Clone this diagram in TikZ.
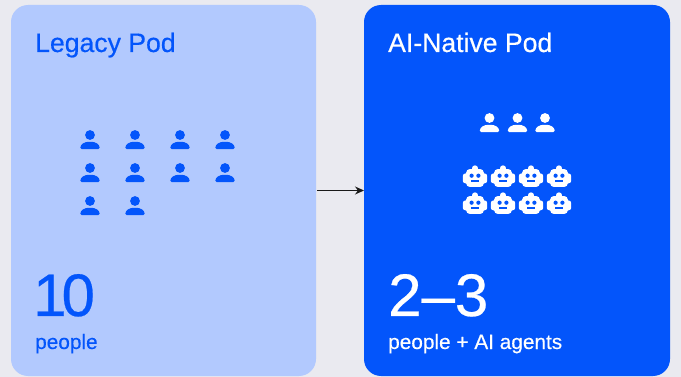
\documentclass[tikz,border=0pt]{standalone}
\usepackage{fontspec}
\usetikzlibrary{arrows.meta}
\setmainfont{Liberation Sans}[FakeBold=0.4]
\definecolor{bgc}{HTML}{EAEAF0}
\definecolor{lightc}{HTML}{B2C9FE}
\definecolor{bluec}{HTML}{0355FB}
\newcommand{\personicon}[3]{%
\begin{scope}[shift={(#1,#2)}]
\fill[#3] (0,-5) circle (4.9);
\fill[#3,rounded corners=1.6] (-9.7,9.2) .. controls (-9.7,4) and (-4.8,1.8) .. (0,1.8) .. controls (4.8,1.8) and (9.7,4) .. (9.7,9.2) -- cycle;
\end{scope}}
\newcommand{\boticon}[2]{%
\begin{scope}[shift={(#1,#2)}]
\fill[white] (0,-8.2) circle (3);
\fill[white,rounded corners=3.5] (-8.8,-7.4) rectangle (8.8,10.4);
\fill[white,rounded corners=2.5] (-12.2,-3) rectangle (12.2,6.8);
\fill[bluec] (-3.4,-0.8) circle (2.1);
\fill[bluec] (3.4,-0.8) circle (2.1);
\fill[bluec] (-4,3.6) rectangle (4,5.2);
\end{scope}}
\begin{document}
\begin{tikzpicture}[x=1pt,y=-1pt,
  titlelabel/.style={font=\fontsize{26.6}{30}\selectfont,anchor=base west,inner sep=0pt},
  biglabel/.style={font=\fontsize{60}{64}\selectfont,anchor=base west,inner sep=0pt},
  sublabel/.style={font=\fontsize{20.8}{24}\selectfont,anchor=base west,inner sep=0pt}]
\useasboundingbox (0,0) rectangle (681,377);
\fill[bgc] (0,0) rectangle (681,377);
\fill[lightc,rounded corners=17] (11,5) rectangle (316,376);
\fill[bluec,rounded corners=17] (364,5) rectangle (670,376);
\node[titlelabel,text=bluec] (t1) at (35,52) {Legacy Pod};
\node[titlelabel,text=white] (t2) at (388,52) {AI-Native Pod};
\node[biglabel,text=bluec] (b1) at (33,316) {1\kern-5pt 0};
\node[biglabel,text=white] (b2) at (388,316) {2--3};
\node[sublabel,text=bluec] (s1) at (35,349) {people};
\node[sublabel,text=white] (s2) at (388,349) {people + AI agents};
\foreach \x/\y in {90/140,135/140,180/140,225/140,90/173,135/173,180/173,225/173,90/206,135/206}
  {\personicon{\x}{\y}{bluec}}
\foreach \x in {489.5,517.5,545} {\personicon{\x}{123}{white}}
\foreach \x in {475,503,531,559} {\boticon{\x}{176.5}\boticon{\x}{203.5}}
\coordinate (a) at (317,190.5);
\coordinate (b) at (364,190.5);
\draw[-{Stealth[length=9pt,width=8pt]},line width=1.3pt,black!90] (a) -- (b);
\end{tikzpicture}
\end{document}
